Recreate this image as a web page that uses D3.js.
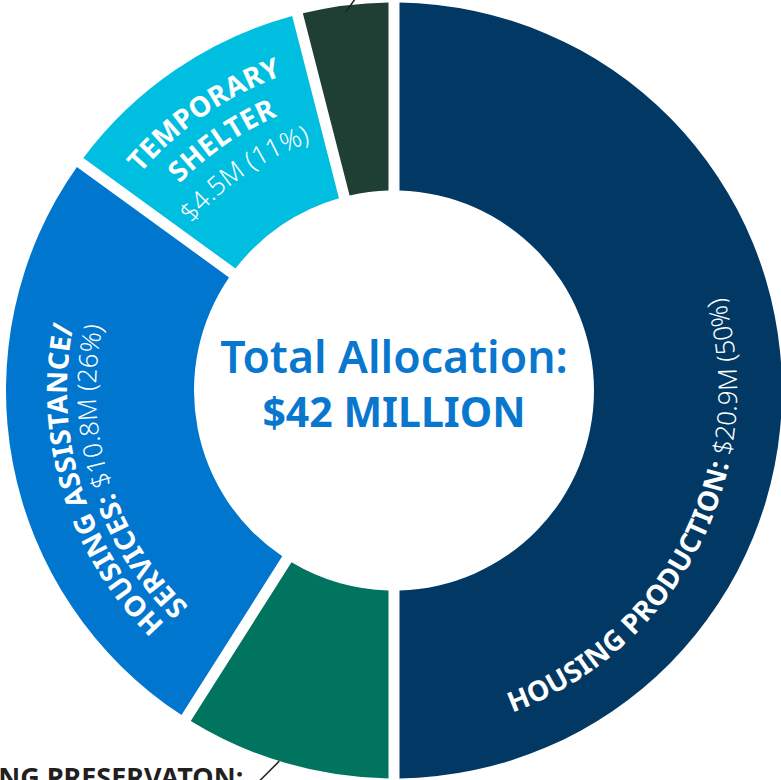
<!DOCTYPE html>
<html>
<head>
<meta charset="utf-8">
<script src="https://cdn.jsdelivr.net/npm/d3@7"></script>
<style>
  html, body { margin: 0; padding: 0; background: #fff; overflow: hidden; }
  svg { display: block; }
</style>
</head>
<body>
<div id="chart-area"></div>
<script>
// allocation data
var categories = ["HOUSING PRODUCTION:", "HOUSING PRESERVATON:", "HOUSING ASSISTANCE/ SERVICES:", "TEMPORARY SHELTER", "OTHER"];
var amounts = ["$20.9M", "$3.8M", "$10.8M", "$4.5M", "$1.6M"];
var shares = [50, 9, 26, 11, 4];
var colors = ["#023864", "#00745f", "#0076cf", "#00bee0", "#1f3f34"];
var centerLines = ["Total Allocation:", "$42 MILLION"];

var width = 781, height = 780;
var cx = 394, cy = 390.5;
var outerR = 388, innerR = 200;
var gap = 11;

var svg = d3.select("#chart-area")
    .append("svg")
    .attr("width", width)
    .attr("height", height);

var g = svg.append("g")
    .attr("transform", `translate(${cx},${cy})`);

var data = categories.map((c, i) => ({ name: c, amount: amounts[i], share: shares[i], color: colors[i] }));

var pie = d3.pie().sort(null).value(d => d.share);
var arcs = pie(data);

var arc = d3.arc()
    .innerRadius(innerR)
    .outerRadius(outerR)
    .padRadius(outerR)
    .padAngle(gap / outerR);

g.selectAll("path.slice")
    .data(arcs)
    .enter()
    .append("path")
    .attr("class", "slice")
    .attr("fill", d => d.data.color)
    .attr("d", arc);

// helpers for curved labels (angles: 0 at top, clockwise)
var rad = deg => deg * Math.PI / 180;
function pt(r, a) { return [r * Math.sin(a), -r * Math.cos(a)]; }
function arcPath(r, a0, a1) {
    var p0 = pt(r, a0), p1 = pt(r, a1);
    var sweep = a1 > a0 ? 1 : 0;
    var large = Math.abs(a1 - a0) > Math.PI ? 1 : 0;
    return `M${p0[0]},${p0[1]}A${r},${r} 0 ${large} ${sweep} ${p1[0]},${p1[1]}`;
}

var labelFont = "'Noto Sans', 'Open Sans', sans-serif";
var boldSize = 28, lightSize = 26;

// label layout: which lines go where
var labels = [
    { mid: 117, dir: "ccw", lines: [
        { bold: categories[0] + " ", light: `${amounts[0]} (${shares[0]}%)`, r: 343 }
    ] },
    { mid: 253, dir: "cw", lines: [
        { bold: "HOUSING ASSISTANCE/", light: "", r: 327 },
        { bold: "SERVICES: ", light: `${amounts[2]} (${shares[2]}%)`, r: 298 }
    ] },
    { mid: 325.5, dir: "cw", lines: [
        { bold: "TEMPORARY", light: "", r: 334 },
        { bold: "SHELTER", light: "", r: 298 },
        { bold: "", light: `${amounts[3]} (${shares[3]}%)`, r: 262 }
    ] }
];

var defs = svg.append("defs");
var pid = 0;
labels.forEach(lab => {
    lab.lines.forEach(line => {
        var id = "lp" + (pid++);
        var a0, a1;
        if (lab.dir === "cw") { a0 = rad(lab.mid - 75); a1 = rad(lab.mid + 75); }
        else { a0 = rad(lab.mid + 75); a1 = rad(lab.mid - 75); }
        defs.append("path").attr("id", id).attr("d", arcPath(line.r, a0, a1));

        var tp = g.append("text")
            .attr("font-family", labelFont)
            .attr("fill", "#fff")
            .append("textPath")
            .attr("href", "#" + id)
            .attr("startOffset", "50%")
            .attr("text-anchor", "middle");
        if (line.bold) tp.append("tspan")
            .attr("font-weight", 700)
            .attr("font-size", boldSize + "px")
            .attr("letter-spacing", "0.3px")
            .text(line.bold);
        if (line.light) tp.append("tspan")
            .attr("font-weight", 300)
            .attr("font-size", lightSize + "px")
            .text(line.light);
    });
});

// center text
g.append("text")
    .attr("text-anchor", "middle")
    .attr("y", -18)
    .attr("font-family", labelFont)
    .attr("font-weight", 600)
    .attr("font-size", "44.5px")
    .attr("fill", "#0a77cf")
    .text(centerLines[0]);

g.append("text")
    .attr("text-anchor", "middle")
    .attr("y", 36)
    .attr("font-family", labelFont)
    .attr("font-weight", 700)
    .attr("font-size", "41px")
    .attr("fill", "#0a77cf")
    .text(centerLines[1]);

// leader lines for small slices
var leaderTop = arcs[4];
var aTop = (leaderTop.startAngle + leaderTop.endAngle) / 2;
var s1 = pt(outerR - 6, aTop);
g.append("line")
    .attr("x1", s1[0]).attr("y1", s1[1])
    .attr("x2", s1[0] + 10).attr("y2", s1[1] - 14)
    .attr("stroke", "#231f20")
    .attr("stroke-width", 1.5);

var leaderBot = arcs[1];
var aBot = (leaderBot.startAngle + leaderBot.endAngle) / 2 + rad(1);
var s2 = pt(outerR, aBot);
var e2 = [s2[0] - 21, s2[1] + 21];
g.append("line")
    .attr("x1", s2[0]).attr("y1", s2[1])
    .attr("x2", e2[0]).attr("y2", e2[1])
    .attr("stroke", "#231f20")
    .attr("stroke-width", 1.5);

g.append("text")
    .attr("x", e2[0] - 15)
    .attr("y", e2[1] + 5)
    .attr("text-anchor", "end")
    .attr("font-family", labelFont)
    .attr("font-weight", 700)
    .attr("font-size", "27px")
    .attr("fill", "#231f20")
    .text(categories[1]);
</script>
</body>
</html>
